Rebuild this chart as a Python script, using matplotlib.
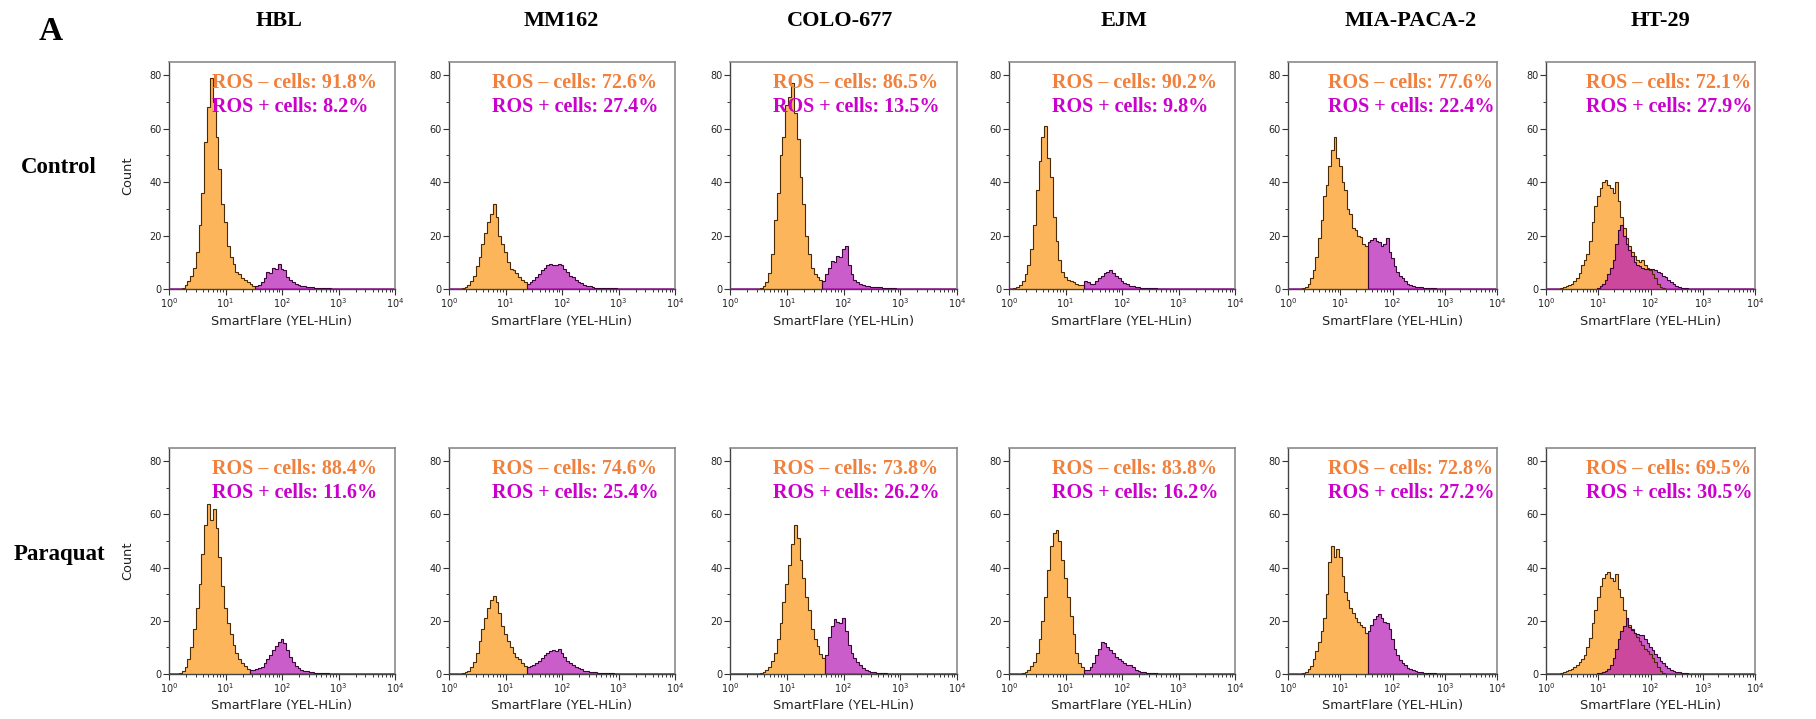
import numpy as np
import matplotlib
matplotlib.use('Agg')
import matplotlib.pyplot as plt
from matplotlib.ticker import MultipleLocator, LogLocator, NullFormatter

# histogram counts, in bins of 0.05 decade (log10 units)
BIN = 0.05

cell_lines = ['HBL', 'MM162', 'COLO-677', 'EJM', 'MIA-PACA-2', 'HT-29']
conditions = ['Control', 'Paraquat']

neg_pct_control = [91.8, 72.6, 86.5, 90.2, 77.6, 72.1]
pos_pct_control = [8.2, 27.4, 13.5, 9.8, 22.4, 27.9]
neg_pct_paraquat = [88.4, 74.6, 73.8, 83.8, 72.8, 69.5]
pos_pct_paraquat = [11.6, 25.4, 26.2, 16.2, 27.2, 30.5]

# first bin centre (log10) of each population
neg_start_control = [0.20, 0.25, 0.55, 0.10, 0.30, 0.30]
pos_start_control = [1.55, 1.40, 1.65, 1.35, 1.55, 1.00]
neg_start_paraquat = [0.20, 0.25, 0.55, 0.25, 0.30, 0.30]
pos_start_paraquat = [1.45, 1.40, 1.70, 1.35, 1.55, 1.00]

# --- Control ---
hbl_c_neg = [0, 0.5, 1.5, 3, 5, 8, 14, 24, 36, 55, 68, 79, 70, 57, 45, 32, 25, 16, 12, 9.5,
             6.5, 5.5, 4, 3.5, 2.5, 2, 1.2]
hbl_c_pos = [1, 1.5, 2.8, 4, 6.5, 6, 8, 7.5, 9.5, 7.5, 7, 4.5, 3.5, 2.5, 2, 1.6, 1.2, 1, 0.8, 0.7,
             0.6, 0.5, 0.4, 0.3, 0.3, 0.2, 0.2, 0.1, 0.1]
mm_c_neg = [0.3, 0.8, 1.5, 3, 5, 8.5, 12, 17, 21, 25, 28, 32, 27, 20, 17, 14, 10, 7.5, 7, 6,
            4.5, 3.5, 2.5]
mm_c_pos = [2, 2.6, 3.5, 4.5, 5.5, 7, 8, 9, 9.5, 9, 9, 9.5, 9, 7.5, 6.5, 5, 4.5, 3.5, 2.8, 2.2,
            1.6, 1.3, 1.0, 0.7, 0.5, 0.4, 0.4, 0.3, 0.3, 0.2, 0.2, 0.2, 0.1]
colo_c_neg = [0.3, 1, 2.5, 6, 13, 26, 36, 50, 57, 69, 72, 77, 66, 56, 42, 32, 20, 13, 8, 5.5,
              4.5, 3.5]
colo_c_pos = [3, 5.5, 8, 10.5, 10, 12.5, 12, 15, 16, 9, 5.5, 3.5, 2.5, 2, 1.5, 1.3, 1.1, 0.9, 0.8,
              0.7, 0.6, 0.5, 0.4, 0.3, 0.3, 0.2]
ejm_c_neg = [0.3, 0.8, 1.5, 3, 5.5, 9, 15, 24, 37, 48, 57, 61, 49, 42, 27, 18, 11, 6.5, 4.5, 3.5,
             3, 2.5, 2, 1.5, 1.5]
ejm_c_pos = [3, 2.5, 2, 2, 3, 4, 5, 6, 6.5, 7, 6, 5, 4, 3, 2.3, 1.7, 1.3, 1, 0.8, 0.7,
             0.5, 0.4, 0.3, 0.3, 0.2, 0.2, 0.1, 0.1, 0.1, 0.1]
mia_c_neg = [0.3, 0.8, 2, 4, 7, 12, 19, 26, 35, 39, 46, 52, 57, 49, 46, 40, 37, 30, 28, 23,
             22, 20, 19.5, 17, 16]
mia_c_pos = [17.5, 18.5, 19, 18, 17.5, 16, 17, 19, 14, 11.5, 8.5, 6.5, 5, 4, 3, 2, 1.5, 1.1, 0.9,
             0.7, 0.6, 0.5, 0.4, 0.3, 0.3, 0.2]
ht_c_neg = [0.3, 0.6, 1, 1.5, 2, 3, 4, 6, 9, 11, 13, 18, 25, 31, 35, 38, 40, 41, 39, 38,
            36, 40, 33, 27, 23, 19, 16, 14, 12.5, 11, 10, 11, 9, 8, 7, 5.5, 4, 2, 0.8, 0.3]
ht_c_pos = [0.3, 1, 2, 3.5, 5.5, 8, 11, 17, 22, 24, 20, 17, 14.5, 12.5, 10, 9, 8.5, 8, 7.5, 7.5,
            7.5, 7.5, 7, 6.5, 6, 5, 4.5, 3.5, 2.5, 2, 1.3, 0.8, 0.5, 0.3, 0.2]

# --- Paraquat ---
hbl_p_neg = [0.3, 1, 2.5, 5.5, 10, 17, 25, 34, 45, 56, 64, 58, 62, 55, 44, 33, 25, 19, 15, 11,
             8, 5.5, 4, 3, 2]
hbl_p_pos = [1.5, 1.5, 1.8, 2.2, 2.8, 4, 5.5, 7, 9, 10.5, 12, 13, 11.5, 9, 6.5, 4.5, 3, 2.2, 1.6,
             1.2, 1, 0.8, 0.6, 0.5, 0.4, 0.3, 0.2, 0.2, 0.1, 0.1, 0.1]
mm_p_neg = [0.3, 0.6, 1, 2.5, 4.5, 8, 12.5, 17, 21, 25, 28, 29.5, 27, 23, 18, 15, 12.5, 10, 8, 6.5,
            5.5, 4, 3]
mm_p_pos = [2.5, 3, 3.5, 4, 5, 6, 7, 8, 8.5, 9, 8.5, 9.5, 8, 6.5, 5, 4.2, 3.5, 2.8, 2.2, 1.7,
            1.3, 1, 0.8, 0.7, 0.6, 0.5, 0.4, 0.3, 0.3, 0.2, 0.2, 0.1, 0.1]
colo_p_neg = [0.3, 0.7, 1.5, 2.5, 5, 8, 13, 19, 27, 34, 41, 49, 56, 51, 43, 36, 29, 24, 17, 13,
              10.5, 7.5, 6]
colo_p_pos = [7, 14, 18, 20.5, 19.5, 19, 21, 16, 11, 8, 6, 4.5, 3.2, 2.3, 1.6, 1.1, 0.8, 0.6, 0.4,
              0.3, 0.2, 0.2, 0.1]
ejm_p_neg = [0.3, 0.7, 1.5, 3, 4.5, 8, 13, 20, 29, 39, 48, 53, 54, 50, 43, 36, 29, 22, 15, 8,
             4, 2.5]
ejm_p_pos = [1.5, 1.5, 2.5, 4, 7, 9.5, 12, 11.5, 10, 9, 8, 6.5, 5.5, 5, 4, 3.5, 3.2, 2.5, 1.5, 1,
             0.8, 0.6, 0.5, 0.3, 0.2, 0.2, 0.1, 0.1]
mia_p_neg = [0.3, 0.8, 1.7, 3, 5.5, 8.5, 12, 16, 21, 30, 42, 48, 44, 47, 44, 37, 31, 28, 25, 23,
             21, 19.5, 18.5, 17.5, 15.5]
mia_p_pos = [16, 18.5, 20.5, 22, 22.5, 21, 19.5, 19, 17, 13, 9.5, 7, 5.3, 4.2, 3.2, 2.4, 1.8, 1.4,
             1.1, 0.9, 0.7, 0.5, 0.4, 0.3, 0.2, 0.2]
ht_p_neg = [0.3, 0.6, 1, 1.5, 2, 2.7, 3.4, 4.5, 5.5, 7, 10, 13.5, 19, 24, 29, 33, 36, 37.5, 38.5, 36,
            35, 37.5, 32, 29, 24, 21, 18.5, 17, 15.5, 14, 12.5, 11, 9.5, 8.5, 7.5, 6, 4.5, 2.5, 1, 0.3]
ht_p_pos = [0.2, 0.5, 0.8, 1.2, 2, 3.5, 6, 9.5, 13, 16, 18, 21, 17.5, 16.5, 15.5, 15, 14.5, 14.5, 13,
            11.5, 10, 9, 7.5, 6.5, 5, 4, 3, 2.2, 1.6, 1.2, 0.9, 0.7, 0.5, 0.4, 0.3]

rows = [
    dict(neg=[hbl_c_neg, mm_c_neg, colo_c_neg, ejm_c_neg, mia_c_neg, ht_c_neg],
         pos=[hbl_c_pos, mm_c_pos, colo_c_pos, ejm_c_pos, mia_c_pos, ht_c_pos],
         neg_start=neg_start_control, pos_start=pos_start_control,
         neg_pct=neg_pct_control, pos_pct=pos_pct_control),
    dict(neg=[hbl_p_neg, mm_p_neg, colo_p_neg, ejm_p_neg, mia_p_neg, ht_p_neg],
         pos=[hbl_p_pos, mm_p_pos, colo_p_pos, ejm_p_pos, mia_p_pos, ht_p_pos],
         neg_start=neg_start_paraquat, pos_start=pos_start_paraquat,
         neg_pct=neg_pct_paraquat, pos_pct=pos_pct_paraquat),
]

# layout, in pixels of the 1816x719 canvas
W, H = 1816, 719
col_left = [169, 449, 730, 1009, 1288, 1546]
col_width = [226, 226, 227, 226, 209, 209]
row_top = [62, 448]
row_bottom = [289, 674]
title_x = [279, 561, 840, 1124, 1411, 1660]
row_label_y = [173, 560]

ORANGE = '#fdb55b'
ORANGE_EDGE = '#4a2a00'
MAGENTA = '#b81eb8'
MAGENTA_EDGE = '#3a0538'
TXT_ORANGE = '#f0803c'
TXT_MAGENTA = '#cc00cc'
SERIF = ['Liberation Serif', 'DejaVu Serif']


def edges(start, n):
    return 10 ** (start - BIN / 2 + BIN * np.arange(n + 1))


fig = plt.figure(figsize=(W / 100, H / 100), dpi=100)

for r, row in enumerate(rows):
    for c in range(6):
        left = col_left[c] / W
        bottom = 1 - row_bottom[r] / H
        ax = fig.add_axes([left, bottom, col_width[c] / W, (row_bottom[r] - row_top[r]) / H])

        neg = np.array(row['neg'][c], dtype=float)
        pos = np.array(row['pos'][c], dtype=float)
        e_neg = edges(row['neg_start'][c], len(neg))
        e_pos = edges(row['pos_start'][c], len(pos))

        ax.axhline(0, color='#b040b0', lw=1.4, zorder=1)
        ax.stairs(neg, e_neg, fill=True, color=ORANGE, zorder=2)
        ax.stairs(pos, e_pos, fill=True, color=MAGENTA, alpha=0.72, zorder=3)
        ax.stairs(neg, e_neg, color=ORANGE_EDGE, lw=0.8, zorder=4)
        ax.stairs(pos, e_pos, color=MAGENTA_EDGE, lw=0.8, zorder=5)

        ax.set_xscale('log')
        ax.set_xlim(1, 1e4)
        ax.set_ylim(0, 85)
        ax.set_xticks([1, 10, 100, 1000, 10000])
        ax.set_xticklabels([r'$10^{0}$', r'$10^{1}$', r'$10^{2}$', r'$10^{3}$', r'$10^{4}$'])
        ax.xaxis.set_minor_locator(LogLocator(base=10, subs=np.arange(2, 10), numticks=20))
        ax.xaxis.set_minor_formatter(NullFormatter())
        ax.set_yticks([0, 20, 40, 60, 80])
        ax.yaxis.set_minor_locator(MultipleLocator(10))
        ax.tick_params(which='major', direction='out', length=4, width=0.8,
                       color='#333333', labelsize=7, pad=1.5, labelcolor='#222222')
        ax.tick_params(which='minor', direction='out', length=2, width=0.7, color='#333333')

        for side in ['left', 'bottom']:
            ax.spines[side].set_color('#444444')
            ax.spines[side].set_linewidth(1.0)
        for side in ['top', 'right']:
            ax.spines[side].set_color('#8a8a8a')
            ax.spines[side].set_linewidth(1.2)

        ax.set_xlabel('SmartFlare (YEL-HLin)', fontsize=9.3, color='#222222')
        ax.xaxis.set_label_coords(0.5, -32 / 227)
        ax.xaxis.label.set_va('center')
        if c == 0:
            ax.set_ylabel('Count', fontsize=9.3, color='#222222')
            ax.yaxis.set_label_coords(-41 / 226, 0.5)
            ax.yaxis.label.set_va('center')

        ax.text(0.19, 0.885, 'ROS – cells: {}%'.format(row['neg_pct'][c]),
                transform=ax.transAxes, fontsize=14.5, fontweight='bold',
                family=SERIF, color=TXT_ORANGE, va='baseline', zorder=6)
        ax.text(0.19, 0.78, 'ROS + cells: {}%'.format(row['pos_pct'][c]),
                transform=ax.transAxes, fontsize=14.5, fontweight='bold',
                family=SERIF, color=TXT_MAGENTA, va='baseline', zorder=6)

for c, name in enumerate(cell_lines):
    fig.text(title_x[c] / W, 1 - 26 / H, name, ha='center', va='baseline',
             fontsize=16, fontweight='bold', family=SERIF)

for r, name in enumerate(conditions):
    fig.text(59 / W, 1 - row_label_y[r] / H, name, ha='center', va='baseline',
             fontsize=16.5, fontweight='bold', family=SERIF)

fig.text(39 / W, 1 - 40 / H, 'A', ha='left', va='baseline',
         fontsize=24, fontweight='bold', family=SERIF)

fig.savefig('out.png', dpi=100)
